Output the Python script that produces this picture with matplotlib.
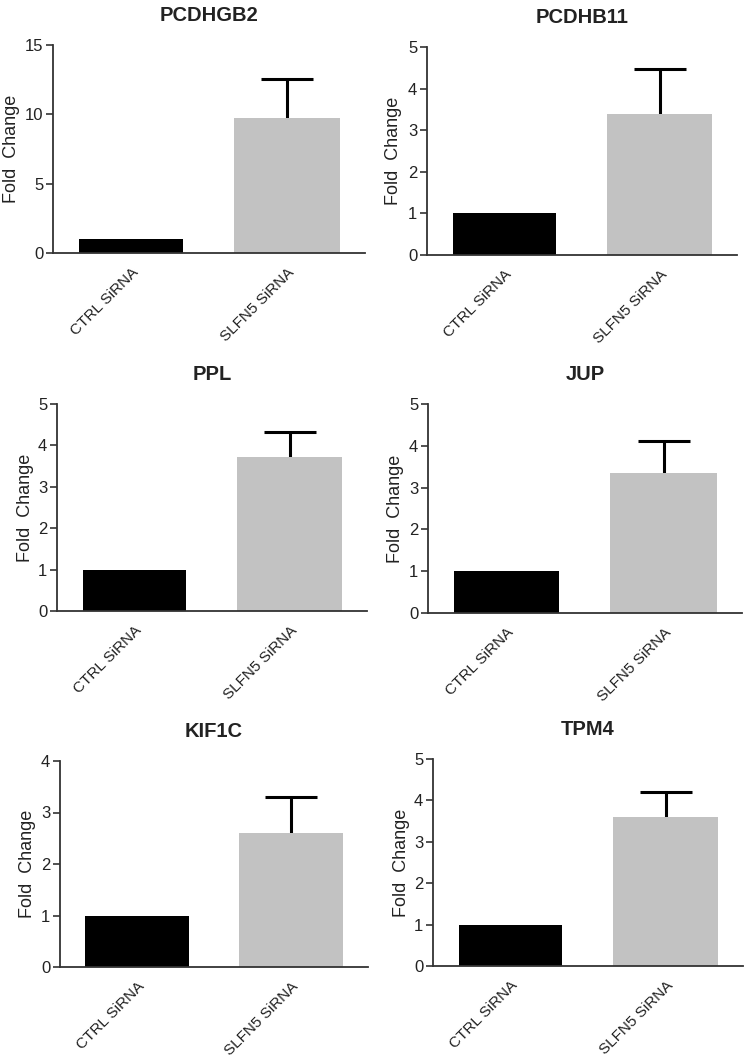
import matplotlib
matplotlib.use("Agg")
import matplotlib.pyplot as plt

plt.rcParams['font.family'] = ['Liberation Sans', 'DejaVu Sans']

genes = ["PCDHGB2", "PCDHB11", "PPL", "JUP", "KIF1C", "TPM4"]
groups = ["CTRL SiRNA", "SLFN5 SiRNA"]
ctrl_vals = [1.0, 1.0, 1.0, 1.0, 1.0, 1.0]
slfn5_vals = [9.74, 3.39, 3.72, 3.35, 2.60, 3.60]
slfn5_err = [2.81, 1.08, 0.60, 0.76, 0.70, 0.60]
ymax = [15, 5, 5, 5, 4, 5]
ystep = [5, 1, 1, 1, 1, 1]

# layout: axes boxes in pixels (left, right, top, bottom) and y-label centre x
boxes = [(53, 365, 45, 253), (427, 737, 47, 255),
         (57, 367, 404, 611), (428, 742, 404, 613),
         (60, 368, 761, 967), (433, 743, 759, 966)]
ylabel_x = [12, 394, 25, 395, 28, 401]

W, H = 750, 1060
fig = plt.figure(figsize=(W / 100, H / 100), dpi=100)
txt = '#222222'
for i, g in enumerate(genes):
    l, r, t, b = boxes[i]
    ax = fig.add_axes([l / W, 1 - b / H, (r - l) / W, (b - t) / H])
    ax.bar([0], [ctrl_vals[i]], width=0.67, color='black', zorder=2)
    ax.bar([1], [slfn5_vals[i]], width=0.68, color='#c2c2c2', zorder=2)
    eb = ax.errorbar([1], [slfn5_vals[i]], yerr=[[0], [slfn5_err[i]]], fmt='none',
                     ecolor='black', elinewidth=2.2, capsize=18.5, capthick=2.2, zorder=1)
    caps = eb[1]
    if len(caps) > 1:
        caps[0].set_visible(False)
    ax.set_xlim(-0.5, 1.5)
    ax.set_ylim(0, ymax[i])
    ax.set_yticks(range(0, ymax[i] + 1, ystep[i]))
    ax.set_xticks([0, 1])
    ax.set_xticklabels(groups, rotation=45, ha='right', va='top',
                       rotation_mode='anchor', fontsize=11, color=txt)
    ax.tick_params(axis='x', length=0, pad=9)
    ax.tick_params(axis='y', length=5, width=1.2, labelsize=12,
                   colors='#333333', labelcolor=txt, pad=2)
    for s in ['top', 'right']:
        ax.spines[s].set_visible(False)
    for s in ['left', 'bottom']:
        ax.spines[s].set_linewidth(1.3)
        ax.spines[s].set_color('#333333')
    ax.set_ylabel("Fold  Change", fontsize=13, color=txt, va='center')
    ax.yaxis.set_label_coords((ylabel_x[i] - l) / (r - l), 0.5)
    ax.set_title(g, fontsize=14.5, fontweight='bold', color=txt, pad=17)

fig.savefig("out.png", dpi=100, facecolor='white')
